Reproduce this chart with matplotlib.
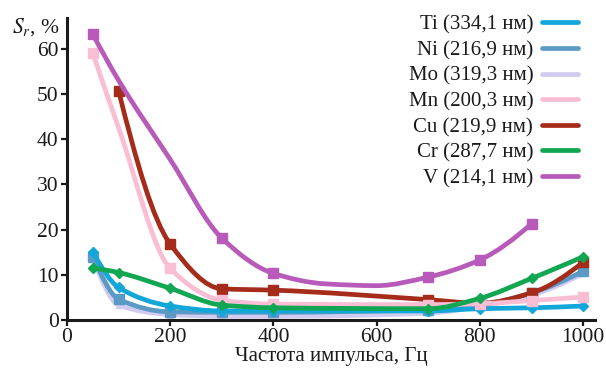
import numpy as np
import matplotlib
matplotlib.use("Agg")
import matplotlib.pyplot as plt
from matplotlib.path import Path
from matplotlib.patches import PathPatch
from matplotlib.lines import Line2D

plt.rcParams['font.family'] = ['Liberation Serif', 'DejaVu Serif']
plt.rcParams['mathtext.fontset'] = 'stix'

# ---- data ----
labels = ["Ti (334,1 нм)", "Ni (216,9 нм)", "Mo (319,3 нм)", "Mn (200,3 нм)",
          "Cu (219,9 нм)", "Cr (287,7 нм)", "V (214,1 нм)"]
colors = ["#12a6d9", "#5b9ac4", "#d2cbf0", "#f9bdd4", "#a52b1b", "#11a651", "#b75ab9"]
markers = ["D", "s", "^", "s", "s", "D", "s"]
zorders = [4, 3, 2, 6, 5, 7, 8]

ti_x = [50, 100, 200, 300, 400, 700, 800, 900, 1000]
ti_y = [15.0, 7.2, 3.1, 2.0, 2.0, 2.0, 2.5, 2.7, 3.1]
ni_x = [50, 100, 200, 300, 400, 700, 800, 900, 1000]
ni_y = [14.0, 4.6, 1.8, 1.7, 1.7, 2.3, 3.3, 6.0, 10.8]
mo_x = [50, 100, 200, 300, 400, 700, 800, 900, 1000]
mo_y = [13.5, 3.3, 1.2, 0.8, 0.8, 1.5, 3.0, 5.5, 10.3]
mn_x = [50, 100, 200, 300, 400, 700, 800, 900, 1000]
mn_y = [59.0, 42.5, 11.4, 4.4, 3.5, 3.4, 3.6, 4.3, 5.1]
mn_marked = [50, 200, 300, 400, 700, 800, 900, 1000]
cu_x = [100, 200, 300, 400, 700, 800, 900, 1000]
cu_y = [50.7, 16.8, 6.9, 6.6, 4.5, 3.7, 6.0, 12.8]
cr_x = [50, 100, 200, 300, 400, 700, 800, 900, 1000]
cr_y = [11.5, 10.5, 7.0, 3.3, 2.7, 2.5, 4.8, 9.2, 14.0]
v_x = [50, 100, 200, 300, 400, 500, 600, 700, 800, 900]
v_y = [63.2, 53.0, 35.5, 18.1, 10.3, 8.0, 7.6, 9.5, 13.3, 21.3]
v_marked = [50, 300, 400, 700, 800, 900]

series_x = [ti_x, ni_x, mo_x, mn_x, cu_x, cr_x, v_x]
series_y = [ti_y, ni_y, mo_y, mn_y, cu_y, cr_y, v_y]
series_marked = [None, None, None, mn_marked, None, None, v_marked]

x_ticks = [0, 200, 400, 600, 800, 1000]
y_ticks = [0, 10, 20, 30, 40, 50, 60]


def pchip_slopes(x, y):
    h = np.diff(x)
    d = np.diff(y) / h
    n = len(x)
    m = np.zeros(n)
    for i in range(1, n - 1):
        if d[i - 1] * d[i] <= 0:
            m[i] = 0.0
        else:
            w1 = 2 * h[i] + h[i - 1]
            w2 = h[i] + 2 * h[i - 1]
            m[i] = (w1 + w2) / (w1 / d[i - 1] + w2 / d[i])

    def end(h0, h1, d0, d1):
        s = ((2 * h0 + h1) * d0 - h0 * d1) / (h0 + h1)
        if np.sign(s) != np.sign(d0):
            s = 0.0
        elif np.sign(d0) != np.sign(d1) and abs(s) > abs(3 * d0):
            s = 3 * d0
        return s
    if n > 2:
        m[0] = end(h[0], h[1], d[0], d[1])
        m[-1] = end(h[-1], h[-2], d[-1], d[-2])
    else:
        m[:] = d[0]
    return m


def smooth_path(x, y):
    x = np.asarray(x, float)
    y = np.asarray(y, float)
    m = pchip_slopes(x, y)
    verts = [(x[0], y[0])]
    codes = [Path.MOVETO]
    for i in range(len(x) - 1):
        h = x[i + 1] - x[i]
        verts += [(x[i] + h / 3, y[i] + m[i] * h / 3),
                  (x[i + 1] - h / 3, y[i + 1] - m[i + 1] * h / 3),
                  (x[i + 1], y[i + 1])]
        codes += [Path.CURVE4] * 3
    return Path(verts, codes)


fig = plt.figure(figsize=(6.06, 3.71), dpi=100)
ax = fig.add_axes([67 / 606, 1 - 320 / 371, (595 - 67) / 606, (320 - 18) / 371])

lw = 3.4
handles = []
for k, (xs, ys) in enumerate(zip(series_x, series_y)):
    patch = PathPatch(smooth_path(xs, ys), facecolor='none', edgecolor=colors[k],
                      lw=lw, transform=ax.transData, capstyle='round', joinstyle='round',
                      zorder=zorders[k])
    ax.add_patch(patch)
    marked = series_marked[k]
    if marked is not None:
        mx = [xv for xv in xs if xv in marked]
        my = [yv for xv, yv in zip(xs, ys) if xv in marked]
    else:
        mx, my = xs, ys
    ms = 6.5 if markers[k] == 's' else 5
    ax.plot(mx, my, linestyle='none', marker=markers[k], ms=ms, color=colors[k],
            zorder=zorders[k])
    handles.append(Line2D([], [], color=colors[k], lw=lw, solid_capstyle='round'))

ax.set_xlim(0, 1023)
ax.set_ylim(0, 66.8)
ax.set_xticks(x_ticks)
ax.set_yticks(y_ticks)
ax.spines['top'].set_visible(False)
ax.spines['right'].set_visible(False)
for s in ['left', 'bottom']:
    ax.spines[s].set_linewidth(2.2)
    ax.spines[s].set_color('#1a1a1a')
ax.tick_params(axis='both', direction='out', length=4, width=1.6, labelsize=15.5,
               colors='#1a1a1a', pad=2)

ax.set_xlabel("Частота импульса, Гц", fontsize=15, labelpad=0, color='#1a1a1a')
fig.text(12 / 606, 1 - 27 / 371, r"$S_r$, %", fontsize=15.5, ha='left', va='center',
         color='#1a1a1a')

leg = fig.legend(handles, labels, loc='upper right', bbox_to_anchor=(578 / 606, 1 - 15 / 371),
                 frameon=False, markerfirst=False, fontsize=15, handlelength=1.75,
                 labelspacing=0.29, handletextpad=0.4, borderaxespad=0, borderpad=0)
for t in leg.get_texts():
    t.set_color('#1a1a1a')

fig.savefig("out.png", dpi=100)
